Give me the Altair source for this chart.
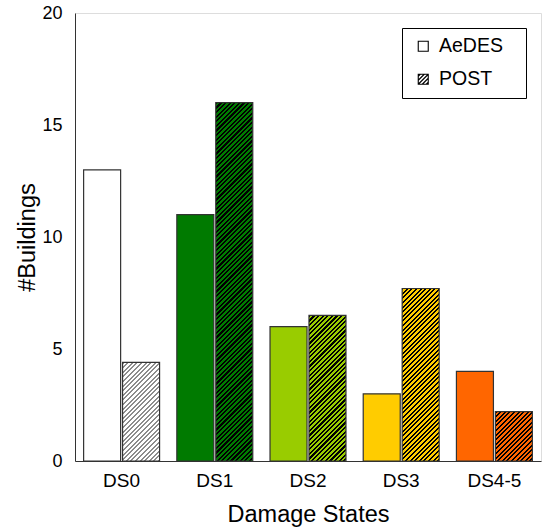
import altair as alt
import pandas as pd

# Building counts per damage state, for the two survey forms
states = ["DS0", "DS1", "DS2", "DS3", "DS4-5"]
series = ["AeDES", "POST"]
aedes_counts = [13, 11, 6, 3, 4]
post_counts = [4.4, 16, 6.5, 7.7, 2.2]

# One colour per damage state; POST bars get diagonal hatching on top of it
state_colors = ["#FFFFFF", "#007A00", "#99CC00", "#FFCC00", "#FF6600"]
hatch_colors = ["#8C8C8C", "#000000", "#000000", "#000000", "#000000"]

Y_MAX = 20
PLOT_W, PLOT_H = 466, 448
PAD_INNER, PAD_OUTER, SUB_PAD = 0.185, 0.0925, 0.05

rows = []
for ds, a, p in zip(states, aedes_counts, post_counts):
    rows.append({"ds": ds, "series": "AeDES", "n": a})
    rows.append({"ds": ds, "series": "POST", "n": p})
df = pd.DataFrame(rows)

# pixel size of one bar, used to keep the hatch at 45 degrees
step = PLOT_W / len(states)
band = step * (1 - PAD_INNER)
bar_w = band / (2 - SUB_PAD) * (1 - SUB_PAD)
px_per_unit = PLOT_H / Y_MAX


def hatch_gradient(base, line, value, period=4.6, line_w=2.1):
    """Linear gradient with hard stops that draws '////' stripes in a bar."""
    w, h = bar_w, max(value * px_per_unit, 1.0)
    total = w + h
    s = (1 / h + 1 / w) / (1 / h ** 2 + 1 / w ** 2)
    stops = []
    k = 0.0
    while k < total:
        a = k / total
        b = min((k + line_w) / total, 1.0)
        stops += [
            {"offset": a, "color": base},
            {"offset": a, "color": line},
            {"offset": b, "color": line},
            {"offset": b, "color": base},
        ]
        k += period
    return {"gradient": "linear", "x1": 0, "y1": 0,
            "x2": s / h, "y2": s / w, "stops": stops}


FONT = "Liberation Sans"

base = alt.Chart(df).encode(
    x=alt.X(
        "ds:N", sort=states,
        scale=alt.Scale(paddingInner=PAD_INNER, paddingOuter=PAD_OUTER),
        axis=alt.Axis(title="Damage States", labelAngle=0, ticks=False, tickSize=0,
                      labelFontSize=19, labelPadding=10, titleFontSize=23.5,
                      titlePadding=12, labelColor="black", titleColor="black",
                      titleFontWeight="normal", domainColor="#333"),
    ),
    xOffset=alt.XOffset("series:N", sort=series,
                        scale=alt.Scale(domain=series, paddingInner=SUB_PAD)),
    y=alt.Y(
        "n:Q",
        scale=alt.Scale(domain=[0, Y_MAX], nice=False),
        axis=alt.Axis(title="#Buildings", values=[0, 5, 10, 15, 20], grid=False,
                      ticks=False, tickSize=0, labelFontSize=18, labelPadding=13,
                      titleFontSize=23.5, titlePadding=2, labelColor="black",
                      titleColor="black", titleFontWeight="normal",
                      domainColor="#333"),
    ),
)

plain = base.transform_filter("datum.series == 'AeDES'").mark_bar(
    stroke="#333", strokeWidth=1.2
).encode(
    fill=alt.Fill("ds:N", scale=alt.Scale(domain=states, range=state_colors), legend=None)
)

hatched = []
for ds, val, col, hcol in zip(states, post_counts, state_colors, hatch_colors):
    hatched.append(
        base.transform_filter(
            f"datum.series == 'POST' && datum.ds == '{ds}'"
        ).mark_bar(fill=hatch_gradient(col, hcol, val), stroke="#333", strokeWidth=1.2)
    )

HATCH_SYMBOL = (
    "M-1,-1H1V1H-1Z"
    "M-1,-0.6L-0.6,-1M-1,0.2L0.2,-1M-1,1L1,-1M-0.2,1L1,-0.2M0.6,1L1,0.6"
)

legend_layer = alt.Chart(pd.DataFrame({"series": series})).mark_point(
    opacity=0
).encode(
    shape=alt.Shape(
        "series:N",
        scale=alt.Scale(domain=series, range=["square", HATCH_SYMBOL]),
        legend=alt.Legend(
            # a blank title on the right adds room after the labels
            title="\u00a0", titleOrient="right", titlePadding=15, titleFontSize=4,
            orient="none", legendX=327, legendY=15,
            padding=8.5, symbolOffset=3, labelOffset=6, rowPadding=12,
            symbolSize=100, symbolStrokeColor="black", symbolStrokeWidth=1.1,
            symbolOpacity=1, labelFontSize=19.5, labelFont=FONT,
            labelColor="black",
            strokeColor="black", fillColor="white",
        ),
    )
)

chart = alt.layer(plain, *hatched, legend_layer).properties(
    width=PLOT_W,
    height=PLOT_H,
    padding={"left": 75, "top": 13, "right": 1, "bottom": 67},
    autosize=alt.AutoSizeParams(type="none"),
).configure_view(
    stroke="#333", strokeWidth=1.2
).configure(
    font=FONT, background="white"
)

chart.save("out.html", embed_options={"renderer": "svg", "actions": False})
